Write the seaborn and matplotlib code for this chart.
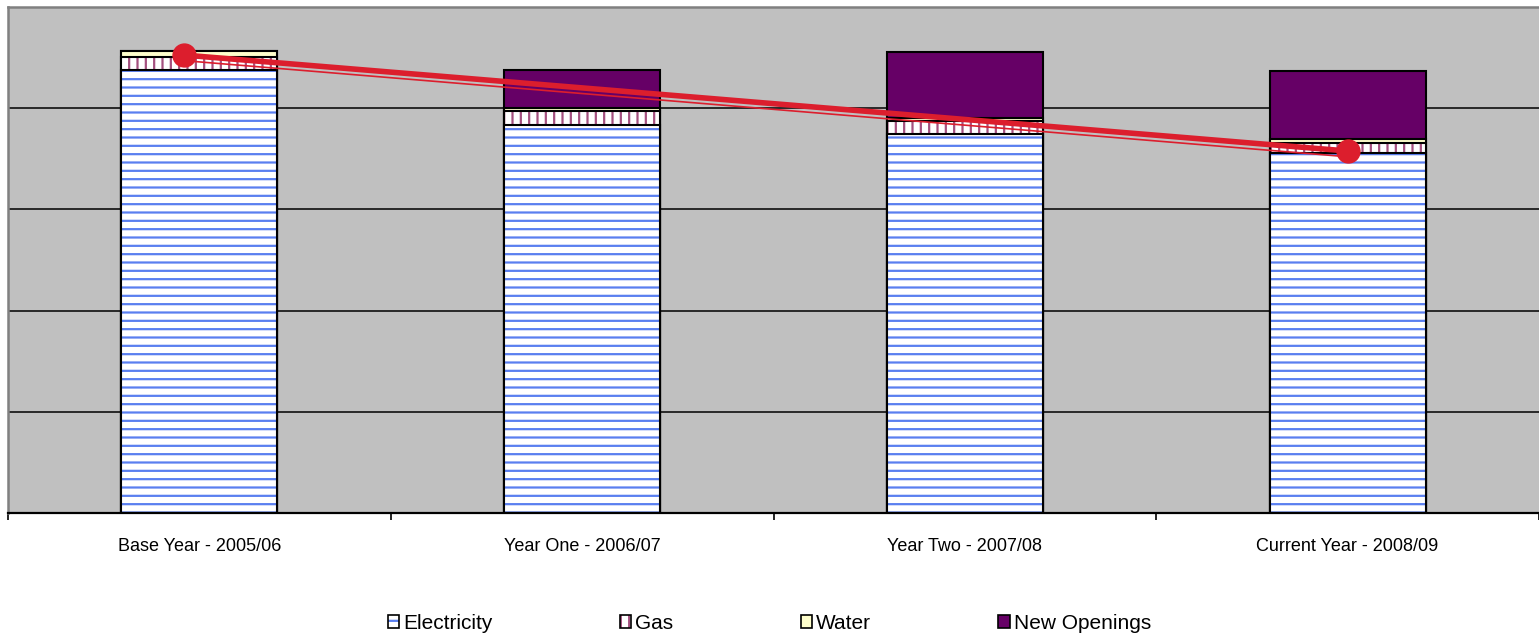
import matplotlib
matplotlib.use('Agg')

import numpy as np
import pandas as pd
import matplotlib.pyplot as plt
import seaborn as sns
from matplotlib.patches import Patch
from matplotlib.colors import to_rgba

# values (one gridline = 1 unit)
years = ['Base Year - 2005/06', 'Year One - 2006/07', 'Year Two - 2007/08', 'Current Year - 2008/09']
electricity = [4.38, 3.83, 3.75, 3.56]
gas = [0.13, 0.14, 0.125, 0.10]
water = [0.055, 0.028, 0.027, 0.033]
new_openings = [0.0, 0.384, 0.65, 0.67]

trend_pos = [-0.04, 3.0]
trend_main = [4.525, 3.577]
trend_thin = [4.47, 3.52]

series = ['Electricity', 'Gas', 'Water', 'New Openings']
fills = ['white', 'white', '#ffffcc', '#660066']
hatch_cols = ['#5a7ff0', '#a4507f', None, None]
hatches = ['--', '||', None, None]

sns.set_style('whitegrid', {'axes.facecolor': '#c0c0c0', 'grid.color': 'black'})
plt.rcParams['font.family'] = ['Liberation Sans', 'DejaVu Sans']
plt.rcParams['hatch.linewidth'] = 1.6
plt.rcParams['text.color'] = 'black'
plt.rcParams['xtick.color'] = 'black'

df = pd.DataFrame({'year': years, 'Electricity': electricity, 'Gas': gas,
                   'Water': water, 'New Openings': new_openings})
cum = df[series].cumsum(axis=1)


def set_hatch_color(p, c):
    if hasattr(p, 'set_hatchcolor'):
        p.set_hatchcolor(c)
    else:
        p._hatch_color = to_rgba(c)


fig = plt.figure(figsize=(15.39, 6.39), dpi=100)
ax = fig.add_axes([8 / 1539, 1 - 513 / 639, 1531 / 1539, 506 / 639])

# stacked bars: draw cumulative totals from the top layer down
for i in range(len(series) - 1, -1, -1):
    n_before = len(ax.patches)
    sns.barplot(x=df['year'], y=cum[series[i]], color=fills[i], saturation=1,
                width=0.407, edgecolor='black', linewidth=1.5,
                hatch=hatches[i], ax=ax, zorder=2)
    if hatch_cols[i]:
        for p in ax.patches[n_before:]:
            set_hatch_color(p, hatch_cols[i])

# trend line
sns.lineplot(x=trend_pos, y=trend_thin, color='#dc1e2d', lw=1.2, ax=ax, zorder=4)
sns.lineplot(x=trend_pos, y=trend_main, color='#dc1e2d', lw=4, ax=ax, zorder=4)
ax.plot(trend_pos, trend_main, 'o', color='#dc1e2d', ms=16.5, zorder=5)

ax.set_xlim(-0.5, 3.5)
ax.set_ylim(0, 5)
ax.set_yticks([1, 2, 3, 4])
ax.set_yticklabels([])
ax.tick_params(axis='y', length=0)
ax.grid(axis='y', color='black', lw=1.1)
ax.grid(axis='x', visible=False)
ax.set_axisbelow(True)

ax.set_xticks(np.arange(-0.5, 4, 1))
ax.set_xticklabels([])
ax.set_xticks(np.arange(len(years)), minor=True)
ax.set_xticklabels(years, minor=True, fontsize=13, color='black')
ax.tick_params(axis='x', which='major', length=5, width=1.2, color='black', direction='out', bottom=True)
ax.tick_params(axis='x', which='minor', length=0, pad=18)
ax.set_xlabel('')
ax.set_ylabel('')

for s in ['top', 'left']:
    ax.spines[s].set_color('#808080')
    ax.spines[s].set_linewidth(1.8)
ax.spines['right'].set_visible(False)
ax.spines['bottom'].set_color('black')
ax.spines['bottom'].set_linewidth(1.6)

handles = []
for i, name in enumerate(series):
    h = Patch(facecolor=fills[i], edgecolor='black', lw=1.2, hatch=hatches[i], label=name)
    if hatch_cols[i]:
        set_hatch_color(h, hatch_cols[i])
    handles.append(h)
leg = fig.legend(handles=handles, loc='center', bbox_to_anchor=(0.5, 0.025), ncol=4,
                 frameon=False, fontsize=15, handlelength=0.55, handleheight=0.6,
                 handletextpad=0.2, columnspacing=6.1)
for t in leg.get_texts():
    t.set_color('black')

fig.savefig('out.png', dpi=100)
